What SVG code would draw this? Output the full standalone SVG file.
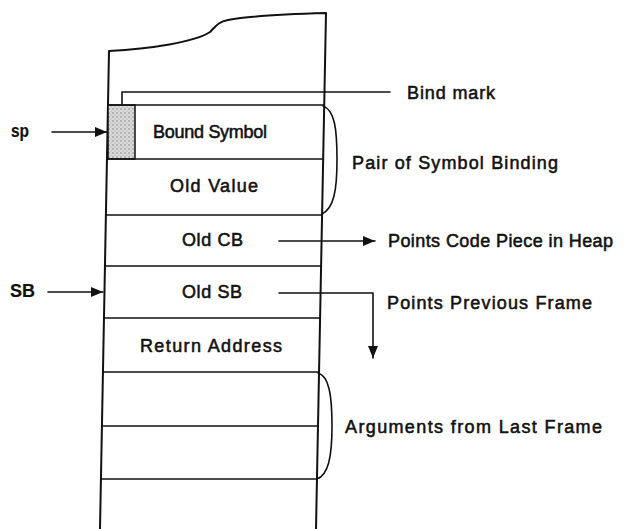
<svg xmlns="http://www.w3.org/2000/svg" width="628" height="529" viewBox="0 0 628 529">
<defs>
<style>
.ln{fill:none;stroke:#111;stroke-width:1.6;stroke-linecap:round;stroke-linejoin:round}
.edge{fill:none;stroke:#111;stroke-width:2;stroke-linejoin:round}
.t{font-family:"Liberation Sans",Arial,Helvetica,sans-serif;font-size:18px;fill:#111;stroke:#111;stroke-width:0.55}
.b{font-weight:bold;stroke-width:0.2}
</style>
<marker id="ah" viewBox="0 0 12 10" refX="12" refY="5" markerWidth="12" markerHeight="10" markerUnits="userSpaceOnUse" orient="auto">
<path d="M0,0 L12,5 L0,10 Z" fill="#111"/>
</marker>
<pattern id="dots" width="4" height="4" patternUnits="userSpaceOnUse">
<rect width="4" height="4" fill="#d8d8d8"/>
<circle cx="1" cy="1" r="0.8" fill="#888"/>
<circle cx="3" cy="3" r="0.6" fill="#aaa"/>
</pattern>
</defs>
<rect width="628" height="529" fill="#fff"/>

<g id="stack">
<path class="edge" d="M100,529 L109,51 C150,49 195,42 210,32 C216,26 218,22 228,20 C250,16 290,14 326,13 L316,529"/>
</g>

<g id="bound-symbol">
<rect x="108" y="105" width="27" height="54" fill="url(#dots)" stroke="#111" stroke-width="1.5"/>
<path class="ln" d="M108,105 L324.2,105"/>
<text class="t" x="153" y="138" textLength="114" lengthAdjust="spacing">Bound Symbol</text>
</g>
<g id="old-value">
<path class="ln" d="M107,159 L323.2,159"/>
<text class="t" x="170" y="192" textLength="88" lengthAdjust="spacing">Old Value</text>
</g>
<g id="old-cb">
<path class="ln" d="M105.9,215 L322.1,215"/>
<text class="t" x="182" y="246" textLength="61" lengthAdjust="spacing">Old CB</text>
</g>
<g id="old-sb">
<path class="ln" d="M104.9,266 L321.1,266"/>
<text class="t" x="182" y="298" textLength="60" lengthAdjust="spacing">Old SB</text>
</g>
<g id="return-address">
<path class="ln" d="M103.9,318 L320.1,318"/>
<text class="t" x="140" y="352" textLength="142" lengthAdjust="spacing">Return Address</text>
</g>
<g id="arg1">
<path class="ln" d="M102.9,372 L319,372"/>
</g>
<g id="arg2">
<path class="ln" d="M101.9,426 L318,426"/>
</g>
<g id="below">
<path class="ln" d="M100.9,479 L317,479"/>
</g>

<g id="labels">
<text class="t b" x="11" y="137" textLength="18" lengthAdjust="spacingAndGlyphs">sp</text>
<text class="t b" x="10" y="297" textLength="25" lengthAdjust="spacingAndGlyphs">SB</text>
<text class="t" x="407" y="99" textLength="88" lengthAdjust="spacing">Bind mark</text>
<text class="t" x="352" y="169" textLength="206" lengthAdjust="spacing">Pair of Symbol Binding</text>
<text class="t" x="388" y="247" textLength="225" lengthAdjust="spacing">Points Code Piece in Heap</text>
<text class="t" x="387" y="309" textLength="205" lengthAdjust="spacing">Points Previous Frame</text>
<text class="t" x="345" y="433" textLength="257" lengthAdjust="spacing">Arguments from Last Frame</text>
</g>

<g id="connectors">
<path class="ln" d="M52,132 L107,132" marker-end="url(#ah)"/>
<path class="ln" d="M48,292 L103,292" marker-end="url(#ah)"/>
<path class="ln" d="M122,105 L122,92 L390,92"/>
<path class="ln" d="M279,241 L375,241" marker-end="url(#ah)"/>
<path class="ln" d="M279,293 L373,293 L373,358" marker-end="url(#ah)"/>
<path class="ln" d="M323,106 C335,110 337,130 337,160 C337,190 334,208 322,214"/>
<path class="ln" d="M318,373 C329,376 332,395 332,426 C332,458 328,475 317,479"/>
</g>
</svg>
